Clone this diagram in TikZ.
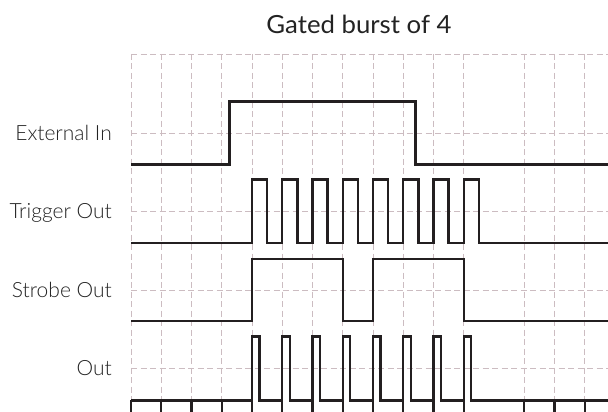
\documentclass[tikz,border=0pt]{standalone}
\usepackage{fontspec}
\setmainfont{Lato}
\newfontfamily\lightfont{Lato Light}
\definecolor{gridc}{RGB}{204,188,193}
\definecolor{sigc}{RGB}{35,31,32}
\definecolor{txtc}{RGB}{35,35,35}
\begin{document}
\begin{tikzpicture}[x=1pt,y=-1pt,
  gridline/.style={draw=gridc,line width=0.9pt,dash pattern=on 6pt off 3.5pt},
  sig/.style={draw=sigc,line width=2.4pt,line join=miter},
  lbl/.style={anchor=base east,inner sep=0pt,text=txtc,font=\lightfont\fontsize{21}{24}\selectfont}]
\useasboundingbox (0,0) rectangle (608,412);
% grid
\foreach \i in {0,...,11,13,14,15}{
  \draw[gridline] ({131+30.25*\i},54) -- ({131+30.25*\i},400);
}
\foreach \y in {54,133,211,290,368}{
  \draw[gridline] (131,\y) -- (608,\y);
}
% title
\node[anchor=base,inner sep=0pt,text=txtc,font=\fontsize{25}{28}\selectfont] (title) at (359,33.3) {\scalebox{1.03}[1]{Gated burst of 4}};
% labels
\node[lbl] (lext) at (112,140.5) {External In};
\node[lbl] (ltrig) at (112,218) {Trigger Out};
\node[lbl] (lstrobe) at (112,297) {Strobe Out};
\node[lbl] (lout) at (112,375.5) {Out};
% External In
\draw[sig] (131,164.5) -- (229.3,164.5) -- (229.3,101.5) -- (415.3,101.5) -- (415.3,164.5) -- (608,164.5);
% Trigger Out
\draw[sig] (131,243) foreach \i in {4,...,11}{
  -- ({131+30.25*\i},243) -- ({131+30.25*\i},179.5) -- ({131+30.25*\i+15.1},179.5) -- ({131+30.25*\i+15.1},243)
} -- (608,243);
% Strobe Out
\draw[sig] (131,321) -- (252,321) -- (252,259) -- (342.75,259) -- (342.75,321) -- (373,321) -- (373,259) -- (463.75,259) -- (463.75,321) -- (608,321);
% Out
\draw[sig] (131,400.3) foreach \i in {4,...,11}{
  -- ({131+30.25*\i},400.3) -- ({131+30.25*\i},336.5) -- ({131+30.25*\i+7.5},336.5) -- ({131+30.25*\i+7.5},400.3)
} -- (608,400.3);
\foreach \i in {0,...,11,13,14,15}{
  \draw[sig] ({131+30.25*\i},400.3) -- ({131+30.25*\i},413);
}
\end{tikzpicture}
\end{document}
